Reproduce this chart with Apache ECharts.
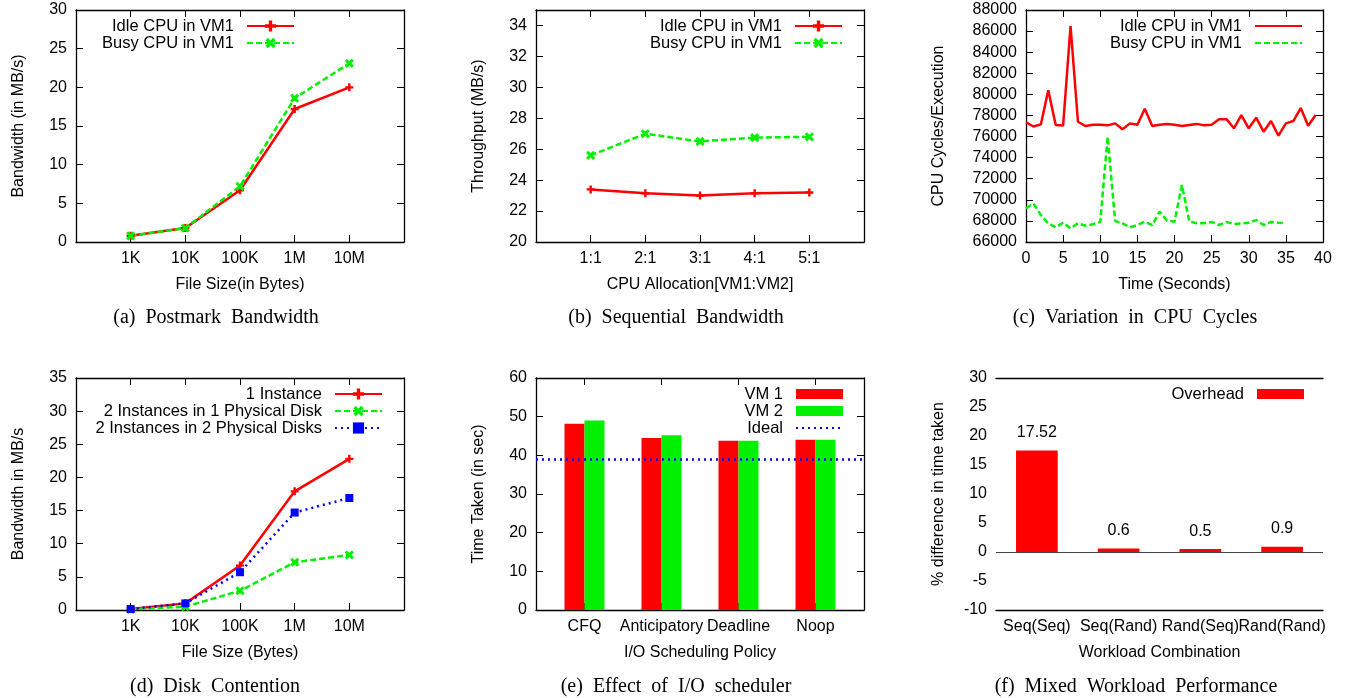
<!DOCTYPE html>
<html>
<head>
<meta charset="utf-8">
<title>VM I/O figures</title>
<script src="https://cdn.jsdelivr.net/npm/echarts@6/dist/echarts.min.js"></script>
<style>
html, body { margin: 0; padding: 0; background: #fff; }
.p { position: absolute; }
</style>
</head>
<body>
<div id="pa" class="p" style="left:0;top:0;width:450px;height:355px"></div>
<div id="pb" class="p" style="left:450px;top:0;width:450px;height:355px"></div>
<div id="pc" class="p" style="left:900px;top:0;width:451px;height:355px"></div>
<div id="pd" class="p" style="left:0;top:355px;width:450px;height:343px"></div>
<div id="pe" class="p" style="left:450px;top:355px;width:450px;height:343px"></div>
<div id="pf" class="p" style="left:900px;top:355px;width:451px;height:343px"></div>
<script>
// (a) postmark
var sizeLabels = ['1K', '10K', '100K', '1M', '10M']
var pmIdle = [0.8, 1.8, 6.7, 17.2, 20.0]
var pmBusy = [0.8, 1.8, 7.2, 18.6, 23.1]
// (b) sequential
var allocLabels = ['1:1', '2:1', '3:1', '4:1', '5:1']
var seqIdle = [23.4, 23.15, 23.0, 23.15, 23.2]
var seqBusy = [25.6, 27.0, 26.5, 26.75, 26.8]
// (c) cpu cycles, one value per second
var cyclesIdle = [77350, 76950, 77150, 80400, 77100, 77050, 86480, 77400, 77000, 77120,
    77120, 77060, 77250, 76700, 77250, 77120, 78640, 77000, 77120, 77200,
    77120, 77000, 77100, 77200, 77060, 77120, 77650, 77650, 76780, 78040,
    76780, 77790, 76460, 77470, 76080, 77250, 77470, 78700, 77030, 78040]
var cyclesBusy = [69190, 69650, 68560, 67770, 67390, 67830, 67300, 67770, 67550, 67680,
    67900, 75990, 67990, 67770, 67390, 67610, 67930, 67610, 68880, 68020,
    67930, 71400, 67930, 67770, 67770, 67900, 67610, 67900, 67710, 67770,
    67830, 68080, 67610, 67900, 67830, 67770]
// (d) disk contention
var oneInst = [0.15, 1.0, 6.7, 17.9, 22.8]
var twoInOne = [0.1, 0.5, 2.9, 7.2, 8.3]
var twoInTwo = [0.15, 1.0, 5.7, 14.7, 16.9]
// (e) io scheduler
var schedulers = ['CFQ', 'Anticipatory', 'Deadline', 'Noop']
var vm1Time = [48.2, 44.5, 43.8, 44.0]
var vm2Time = [49.0, 45.2, 43.8, 44.0]
var idealTime = 39
// (f) mixed workload
var workloads = ['Seq(Seq)', 'Seq(Rand)', 'Rand(Seq)', 'Rand(Rand)']
var overhead = [17.52, 0.6, 0.5, 0.9]

var SANS = '"Liberation Sans", Arial, sans-serif'
var SERIF = '"Liberation Serif", "Times New Roman", serif'
var RED = '#ff0000', GREEN = '#00f000', BLUE = '#0000ff'
var PLUS = 'path://M3.5,0H6.5V3.5H10V6.5H6.5V10H3.5V6.5H0V3.5H3.5Z'

function mkAxis(o, pos, mirror) {
    var horiz = pos === 'bottom' || pos === 'top'
    return {
        type: o.type || 'value',
        position: pos,
        min: o.min,
        max: o.max,
        interval: o.interval,
        data: o.data,
        boundaryGap: o.type === 'category' ? true : undefined,
        name: mirror ? '' : o.name,
        nameLocation: 'middle',
        nameGap: horiz ? 35 : (o.nameGap || 49),
        nameMoveOverlap: false,
        nameTextStyle: { color: '#000', fontSize: 16, fontFamily: SANS },
        axisLine: { onZero: false, lineStyle: { color: '#000', width: 1.3 } },
        axisTick: {
            inside: true, length: 7, alignWithLabel: true,
            customValues: o.ticks,
            lineStyle: { color: '#000', width: 1 }
        },
        axisLabel: {
            show: !mirror, color: '#000', fontSize: 16, fontFamily: SANS, margin: 9,
            interval: 0, customValues: o.ticks,
            formatter: o.fmt || function (v) { return String(v) },
            showMaxLabel: o.hideMax ? false : undefined
        },
        splitLine: { show: false }
    }
}

function lineSeries(name, vals, color, dash, symbol, size, rot) {
    return {
        type: 'line', name: name,
        data: vals.map(function (v, i) { return [i + 1, v] }),
        symbol: symbol, symbolSize: size, symbolRotate: rot || 0,
        itemStyle: { color: color },
        lineStyle: { color: color, width: 2.5, type: dash },
        z: 3
    }
}

// legend entry that shows only the line sample, no marker
function lineOnly(name) {
    return { name: name, itemStyle: { opacity: 0 } }
}

function panel(id, cfg) {
    var chart = echarts.init(document.getElementById(id))
    var g = cfg.grid
    var legend = {
        orient: 'vertical', align: 'right', right: cfg.legendPos[0], top: cfg.legendPos[1],
        itemWidth: 47, itemHeight: cfg.itemH || 14, itemGap: 0, padding: 0,
        textStyle: { color: '#000', fontSize: 16.5, lineHeight: 17, fontFamily: SANS, padding: [0, 8, 0, 0] },
        data: cfg.legendData
    }
    chart.setOption({
        animation: false,
        textStyle: { fontFamily: SANS },
        grid: { left: g[0], top: g[1], width: g[2], height: g[3], outerBoundsMode: 'none' },
        xAxis: [mkAxis(cfg.x, 'bottom', false), mkAxis(cfg.x, 'top', true)],
        yAxis: [mkAxis(cfg.y, 'left', false), mkAxis(cfg.y, 'right', true)],
        legend: legend,
        series: cfg.series,
        graphic: [{
            type: 'text', x: cfg.cap[0], y: cfg.cap[1],
            style: {
                text: cfg.cap[2], fill: '#000', font: '20px ' + SERIF,
                textAlign: 'center', textVerticalAlign: 'middle'
            }
        }]
    })
}

var fivePos = [1, 2, 3, 4, 5]

panel('pa', {
    grid: [76, 10, 328, 232],
    x: { min: 0, max: 6, ticks: fivePos, name: 'File Size(in Bytes)', fmt: function (v) { return sizeLabels[v - 1] } },
    y: { min: 0, max: 30, interval: 5, name: 'Bandwidth (in MB/s)' },
    legendPos: [155, 17.5],
    series: [
        lineSeries('Idle CPU in VM1', pmIdle, RED, 'solid', PLUS, 8),
        lineSeries('Busy CPU in VM1', pmBusy, GREEN, [6, 3], PLUS, 10, 45)
    ],
    cap: [216, 318, '(a)\u2002Postmark\u2002Bandwidth']
})

panel('pb', {
    grid: [86, 10, 328, 232],
    x: { min: 0, max: 6, ticks: fivePos, name: 'CPU Allocation[VM1:VM2]', fmt: function (v) { return allocLabels[v - 1] } },
    y: { min: 20, max: 35, interval: 2, hideMax: true, name: 'Throughput (MB/s)' },
    legendPos: [57, 17.5],
    series: [
        lineSeries('Idle CPU in VM1', seqIdle, RED, 'solid', PLUS, 8),
        lineSeries('Busy CPU in VM1', seqBusy, GREEN, [6, 3], PLUS, 10, 45)
    ],
    cap: [226, 318, '(b)\u2002Sequential\u2002Bandwidth']
})

panel('pc', {
    grid: [126, 10, 297, 232],
    x: { min: 0, max: 40, interval: 5, name: 'Time (Seconds)' },
    y: { min: 66000, max: 88000, interval: 2000, name: 'CPU Cycles/Execution', nameGap: 79 },
    legendPos: [48, 17.5],
    legendData: [lineOnly('Idle CPU in VM1'), lineOnly('Busy CPU in VM1')],
    series: [
        {
            type: 'line', name: 'Idle CPU in VM1', symbol: 'circle', showSymbol: false,
            data: cyclesIdle.map(function (v, i) { return [i, v] }),
            itemStyle: { color: RED }, lineStyle: { color: RED, width: 2.5 }
        },
        {
            type: 'line', name: 'Busy CPU in VM1', symbol: 'circle', showSymbol: false,
            data: cyclesBusy.map(function (v, i) { return [i, v] }),
            itemStyle: { color: GREEN }, lineStyle: { color: GREEN, width: 2.5, type: [6, 3] }
        }
    ],
    cap: [235, 318, '(c)\u2002Variation\u2002in\u2002CPU\u2002Cycles']
})

panel('pd', {
    grid: [76, 23, 328, 232],
    x: { min: 0, max: 6, ticks: fivePos, name: 'File Size (Bytes)', fmt: function (v) { return sizeLabels[v - 1] } },
    y: { min: 0, max: 35, interval: 5, name: 'Bandwidth in MB/s' },
    legendPos: [67, 30.5],
    series: [
        lineSeries('1 Instance', oneInst, RED, 'solid', PLUS, 8),
        lineSeries('2 Instances in 1 Physical Disk', twoInOne, GREEN, [6, 3], PLUS, 10, 45),
        lineSeries('2 Instances in 2 Physical Disks', twoInTwo, BLUE, [2, 4], 'rect', 8)
    ],
    cap: [215, 332, '(d)\u2002Disk\u2002Contention']
})

panel('pe', {
    grid: [86, 23, 328, 232],
    x: { min: -0.63, max: 3.63, ticks: [0, 1, 2, 3], name: 'I/O Scheduling Policy', fmt: function (v) { return schedulers[v] } },
    y: { min: 0, max: 60, interval: 10, name: 'Time Taken (in sec)' },
    legendPos: [56, 30.5],
    itemH: 10,
    legendData: [{ name: 'VM 1', icon: 'rect' }, { name: 'VM 2', icon: 'rect' }, lineOnly('Ideal')],
    series: [
        {
            type: 'bar', name: 'VM 1', barWidth: 20, barGap: '0%',
            data: vm1Time.map(function (v, i) { return [i, v] }),
            itemStyle: { color: RED }
        },
        {
            type: 'bar', name: 'VM 2', barWidth: 20, barGap: '0%',
            data: vm2Time.map(function (v, i) { return [i, v] }),
            itemStyle: { color: GREEN }
        },
        {
            type: 'line', name: 'Ideal', symbol: 'circle', data: [],
            itemStyle: { color: BLUE },
            lineStyle: { color: BLUE, width: 2.5, type: [2, 4] },
            markLine: {
                silent: true, symbol: 'none', label: { show: false },
                lineStyle: { color: BLUE, width: 2.5, type: [2, 4] },
                data: [{ yAxis: idealTime }]
            }
        }
    ],
    cap: [226, 332, '(e)\u2002Effect\u2002of\u2002I/O\u2002scheduler']
})

panel('pf', {
    grid: [96, 23, 327, 232],
    x: { type: 'category', data: workloads, name: 'Workload Combination' },
    y: { min: -10, max: 30, interval: 5, name: '% difference in time taken' },
    legendPos: [47, 30.5],
    itemH: 10,
    legendData: [{ name: 'Overhead', icon: 'rect' }],
    series: [{
        type: 'bar', name: 'Overhead', barWidth: '51%', data: overhead,
        itemStyle: { color: RED },
        label: { show: true, position: 'top', distance: 10, color: '#000', fontSize: 16, fontFamily: SANS },
        markLine: {
            silent: true, symbol: 'none', label: { show: false },
            lineStyle: { color: '#444', width: 1, type: 'solid' },
            data: [{ yAxis: 0 }]
        }
    }],
    cap: [236, 332, '(f)\u2002Mixed\u2002Workload\u2002Performance']
})
</script>
</body>
</html>
